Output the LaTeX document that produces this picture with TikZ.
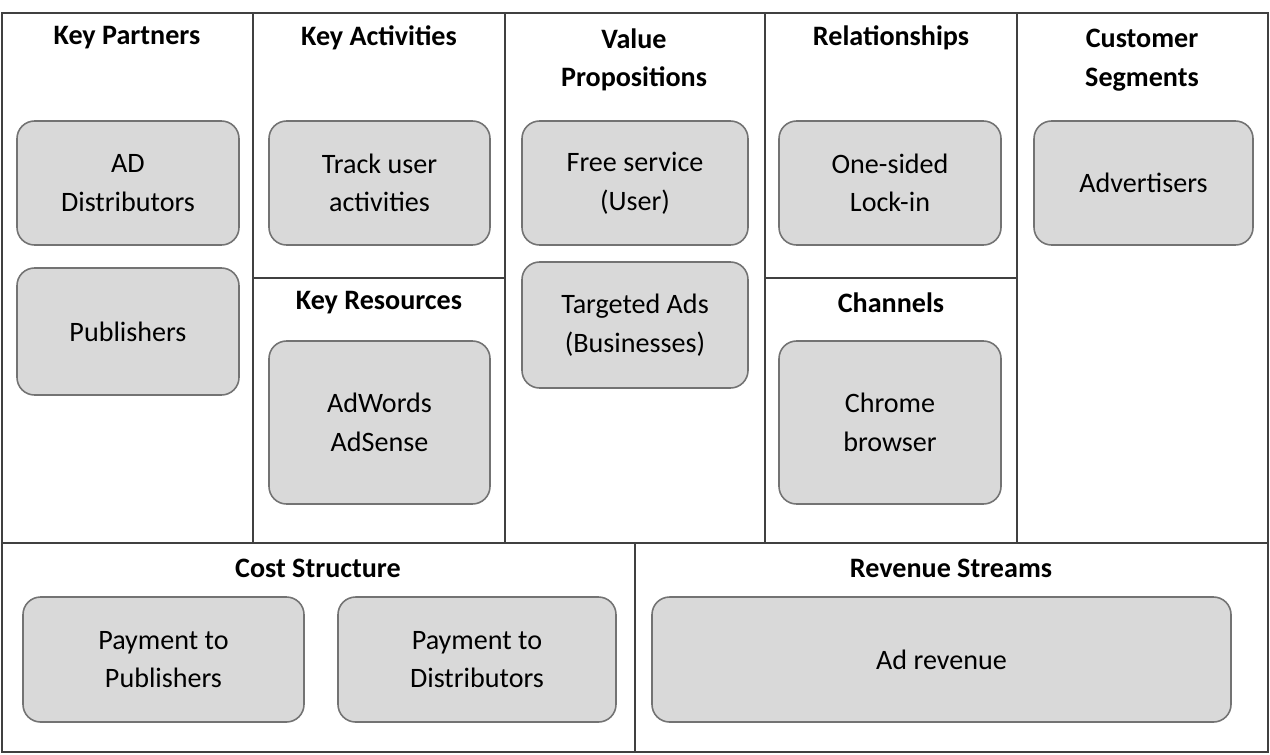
\documentclass[tikz,border=0pt]{standalone}
\usepackage{fontspec}
\setmainfont{Carlito}
\begin{document}
\begin{tikzpicture}[x=0.02cm,y=-0.02cm,
  line/.style={draw=black!75,line width=0.7pt},
  box/.style={draw=black!55,fill=black!15,rounded corners=10pt,line width=0.9pt,align=center,font=\fontsize{16}{22}\selectfont},
  ttl/.style={font=\fontsize{16}{22}\selectfont\bfseries,align=center}]
\useasboundingbox (0,0) rectangle (1270,754);
\draw[line] (2,13) rectangle (1268,752);
\foreach \x in {253,505,765,1017} \draw[line] (\x,13) -- (\x,543);
\draw[line] (2,543) -- (1268,543);
\draw[line] (635,543) -- (635,752);
\draw[line] (253,278) -- (505,278);
\draw[line] (765,278) -- (1017,278);
\newcommand{\bx}[5]{\draw[box] (#1,#2) rectangle (#3,#4); \node[align=center,font=\fontsize{16}{22}\selectfont] at ({(#1+#3)/2},{(#2+#4)/2}) {#5};}
\bx{17}{121}{239}{245}{AD\\Distributors}
\bx{17}{268}{239}{395}{Publishers}
\bx{269}{121}{490}{245}{Track user\\activities}
\bx{269}{341}{490}{504}{AdWords\\AdSense}
\bx{522}{121}{748}{245}{Free service\\(User)}
\bx{522}{262}{748}{388}{Targeted Ads\\(Businesses)}
\bx{779}{121}{1001}{245}{One-sided\\Lock-in}
\bx{779}{341}{1001}{504}{Chrome\\browser}
\bx{1034}{121}{1253}{245}{Advertisers}
\bx{23}{597}{304}{722}{Payment to\\Publishers}
\bx{338}{597}{616}{722}{Payment to\\Distributors}
\bx{652}{597}{1231}{722}{Ad revenue}
\node[ttl] (kp) at (127,38) {Key Partners};
\node[ttl] (ka) at (379,38) {Key Activities};
\node[ttl] (vp) at (634,60) {Value\\Propositions};
\node[ttl] (rl) at (891,38) {Relationships};
\node[ttl] (cs) at (1142,60) {Customer\\Segments};
\node[ttl] (kr) at (379,303) {Key Resources};
\node[ttl] (ch) at (891,303) {Channels};
\node[ttl] (co) at (318,568) {Cost Structure};
\node[ttl] (rs) at (951,568) {Revenue Streams};
\end{tikzpicture}
\end{document}
